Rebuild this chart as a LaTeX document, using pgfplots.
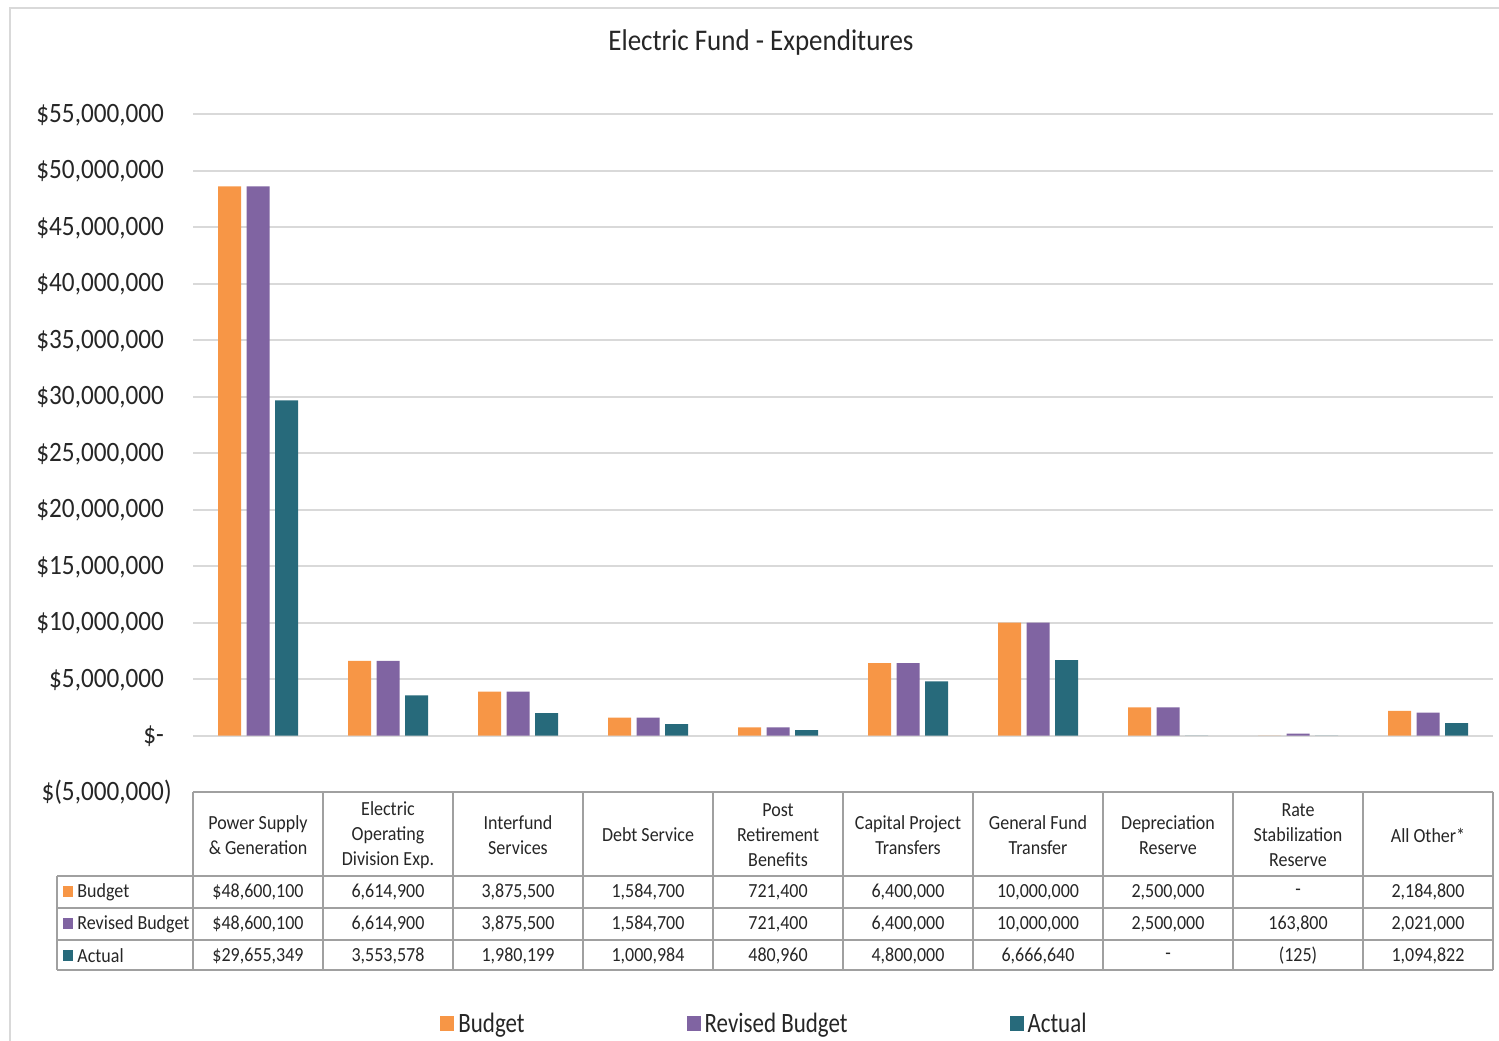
\documentclass[border=0pt]{standalone}
\usepackage{pgfplots}
\usepackage{pgfplotstable}
\pgfplotsset{compat=1.18}
\usepackage{fontspec}
\setmainfont{Carlito}[FakeStretch=0.9]
\newfontfamily\legfont{Carlito}[FakeStretch=0.82]

\definecolor{cBudget}{HTML}{F79646}
\definecolor{cRevised}{HTML}{8064A2}
\definecolor{cActual}{HTML}{276A7B}
\definecolor{gridgray}{HTML}{D9D9D9}
\definecolor{tablegray}{HTML}{A0A0A0}
\definecolor{txt}{HTML}{262626}

% Electric fund expenditures by category (0 = Power Supply ... 9 = All Other)
\pgfplotstableread{
idx budget   revised  actual
0   48600100 48600100 29655349
1   6614900  6614900  3553578
2   3875500  3875500  1980199
3   1584700  1584700  1000984
4   721400   721400   480960
5   6400000  6400000  4800000
6   10000000 10000000 6666640
7   2500000  2500000  0
8   0        163800   -125
9   2184800  2021000  1094822
}\expdata

\begin{document}
\begin{tikzpicture}
\begin{axis}[
  at={(96.5pt,124pt)}, anchor=south west,
  width=650pt, height=339pt, scale only axis,
  xmin=-0.5, xmax=9.5,
  ymin=-5000000, ymax=55000000,
  axis line style={draw=none},
  tick style={draw=none},
  xtick=\empty,
  ytick={-5000000,0,5000000,10000000,15000000,20000000,25000000,30000000,35000000,40000000,45000000,50000000,55000000},
  yticklabels={{\$(5,000,000)},{\$-\phantom{)}},{\$5,000,000\phantom{)}},{\$10,000,000\phantom{)}},{\$15,000,000\phantom{)}},{\$20,000,000\phantom{)}},{\$25,000,000\phantom{)}},{\$30,000,000\phantom{)}},{\$35,000,000\phantom{)}},{\$40,000,000\phantom{)}},{\$45,000,000\phantom{)}},{\$50,000,000\phantom{)}},{\$55,000,000\phantom{)}}},
  scaled y ticks=false,
  yticklabel style={anchor=east, inner sep=0pt, xshift=-10.5pt, font=\fontsize{14}{16}\selectfont, text=txt},
  ymajorgrids,
  grid style={gridgray, line width=1pt},
  ybar, bar width=11.5pt,
  legend columns=3,
  legend style={at={(axis description cs:0.19,-0.342)}, anchor=west,
    draw=none, fill=none, inner sep=0pt,
    font=\legfont\fontsize{14}{16}\selectfont, text=txt,
    /tikz/every even column/.append style={column sep=79pt}},
  legend image code/.code={\fill[#1,draw=none] (0pt,-3.75pt) rectangle (7pt,3.75pt);},
]
\addplot[fill=cBudget, draw=none, bar shift=-14.25pt] table[x=idx,y=budget]{\expdata};
\addplot[fill=cRevised, draw=none, bar shift=0pt] table[x=idx,y=revised]{\expdata};
\addplot[fill=cActual, draw=none, bar shift=14.25pt] table[x=idx,y=actual]{\expdata};
\legend{Budget,Revised Budget,Actual}
\end{axis}

% title, frame and data table in image-style coordinates (y downwards)
\begin{scope}[x=0.5pt, y=-0.5pt, shift={(0pt,520pt)}]
  \draw[gridgray, line width=1pt] (10,1060) -- (10,8) -- (1520,8);
  \node[font=\fontsize{15}{18}\selectfont, text=txt] at (761,43) {Electric Fund - Expenditures};

  \begin{scope}[tablegray, line width=1pt]
    \draw (193,792) -- (1493,792);
    \foreach \k in {0,...,10} \draw (193+130*\k,792) -- (193+130*\k,970);
    \foreach \r in {876,908,940,970} \draw (57,\r) -- (1493,\r);
    \draw (57,876) -- (57,970);
  \end{scope}

  \begin{scope}[every node/.style={font=\fontsize{10}{12.5}\selectfont, text=txt, inner sep=0pt, align=center}]
    \foreach \h [count=\i from 0] in {
      {Power Supply\\\& Generation},
      {Electric\\Operating\\Division Exp.},
      {Interfund\\Services},
      {Debt Service},
      {Post\\Retirement\\Benefits},
      {Capital Project\\Transfers},
      {General Fund\\Transfer},
      {Depreciation\\Reserve},
      {Rate\\Stabilization\\Reserve},
      {All Other*}}
      \node at (258+130*\i,835) {\h};

    \foreach \v [count=\i from 0] in {{\$48,600,100},{6,614,900},{3,875,500},{1,584,700},{721,400},{6,400,000},{10,000,000},{2,500,000},{-},{2,184,800}}
      \node at (258+130*\i,892) {\v};
    \foreach \v [count=\i from 0] in {{\$48,600,100},{6,614,900},{3,875,500},{1,584,700},{721,400},{6,400,000},{10,000,000},{2,500,000},{163,800},{2,021,000}}
      \node at (258+130*\i,924) {\v};
    \foreach \v [count=\i from 0] in {{\$29,655,349},{3,553,578},{1,980,199},{1,000,984},{480,960},{4,800,000},{6,666,640},{-},{(125)},{1,094,822}}
      \node at (258+130*\i,956) {\v};

    \fill[cBudget] (63,886) rectangle (73,897);
    \node[anchor=west] at (77,892) {Budget};
    \fill[cRevised] (63,918) rectangle (73,929);
    \node[anchor=west] at (77,924) {Revised Budget};
    \fill[cActual] (63,950) rectangle (73,961);
    \node[anchor=west] at (77,956) {Actual};
  \end{scope}
\end{scope}

\pgfresetboundingbox
\useasboundingbox (0pt,0pt) rectangle (749.5pt,520pt);
\end{tikzpicture}
\end{document}
